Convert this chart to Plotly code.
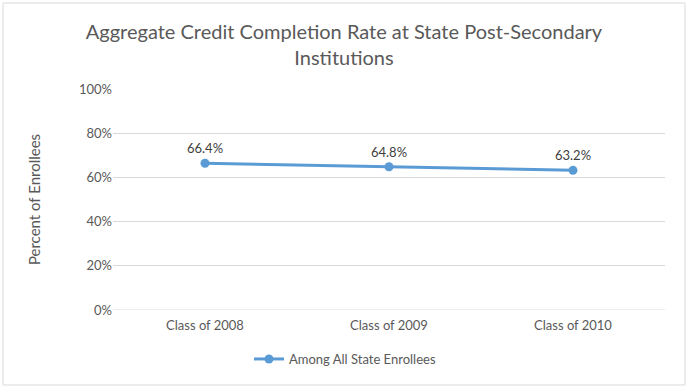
import plotly.graph_objects as go

categories = ["Class of 2008", "Class of 2009", "Class of 2010"]
values = [0.664, 0.648, 0.632]
labels = ["66.4%", "64.8%", "63.2%"]
series_name = "Among All State Enrollees"
y_ticks = [0, 0.2, 0.4, 0.6, 0.8, 1.0]

FONT = "Lato"
BLUE = "#5B9BD5"

fig = go.Figure()
fig.add_trace(go.Scatter(
    x=categories, y=values, mode="lines+markers+text",
    name=series_name,
    text=labels, textposition="top center",
    textfont=dict(family=FONT, size=13, color="#404040"),
    line=dict(color=BLUE, width=3),
    marker=dict(color=BLUE, size=9),
    cliponaxis=False,
))

W, H = 688, 391
L, R, T, B = 113, 23, 89, 81
pw = W - L - R
ph = H - T - B

def px(x):
    return (x - L) / pw

def py(y):
    return (H - B - y) / ph

fig.add_shape(type="rect", xref="paper", yref="paper",
              x0=px(3), x1=px(685), y0=py(385), y1=py(3),
              line=dict(color="#D9D9D9", width=1), layer="below")

fig.update_layout(
    width=W, height=H,
    margin=dict(l=L, r=R, t=T, b=B),
    paper_bgcolor="white", plot_bgcolor="white",
    title=dict(text="Aggregate Credit Completion Rate at State Post-Secondary<br>Institutions",
               x=0.5, xref="container", xanchor="center",
               y=1 - 39 / H, yref="container", yanchor="middle",
               font=dict(family=FONT, size=20, color="#595959")),
    showlegend=True,
    legend=dict(orientation="h", x=px(345), xanchor="center", y=py(359), yanchor="middle",
                font=dict(family=FONT, size=13, color="#595959"),
                bgcolor="rgba(0,0,0,0)", itemwidth=30),
    xaxis=dict(type="category", range=[-0.5, 2.5], showgrid=False, zeroline=False,
               showline=False, ticks="", ticklabelstandoff=6,
               tickfont=dict(family=FONT, size=13, color="#595959")),
    yaxis=dict(range=[0, 1.0], tickvals=y_ticks, tickformat=".0%",
               showgrid=True, gridcolor="#D9D9D9", gridwidth=1,
               zeroline=False, showline=False, ticks="",
               tickfont=dict(family=FONT, size=13, color="#595959"),
               title=dict(text="Percent of Enrollees", standoff=34,
                          font=dict(family=FONT, size=15, color="#595959"))),
)
fig.add_shape(type="line", xref="paper", yref="y", x0=0, x1=1, y0=0, y1=0,
              line=dict(color="#D9D9D9", width=1), layer="below")

fig.write_html("out.html", config={"displayModeBar": False},
               post_script="document.body.style.margin='0';")
